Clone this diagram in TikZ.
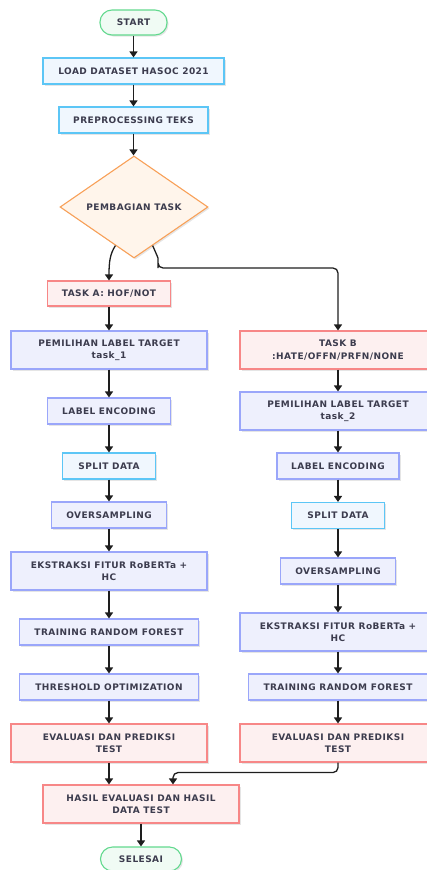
\documentclass[tikz,border=0pt]{standalone}
\usepackage{fontspec}
\newfontfamily\lblfont{DejaVu Sans}[LetterSpace=5, BoldFont={DejaVu Sans Bold}]
\usetikzlibrary{shapes.geometric,arrows.meta,shadows,calc}
\definecolor{txt}{HTML}{3C3C4E}
\definecolor{bluedraw}{HTML}{9AA6FA}
\definecolor{bluefill}{HTML}{EEF0FD}
\definecolor{cyandraw}{HTML}{5CC6F6}
\definecolor{cyanfill}{HTML}{F0F7FE}
\definecolor{reddraw}{HTML}{F78787}
\definecolor{redfill}{HTML}{FDF0F0}
\definecolor{greendraw}{HTML}{62D98E}
\definecolor{greenfill}{HTML}{F0FBF4}
\definecolor{orangedraw}{HTML}{F8A058}
\definecolor{orangefill}{HTML}{FFF5EB}
\definecolor{linec}{HTML}{1E1E1E}
\tikzset{
  base/.style={draw, line width=1.1pt, inner sep=0pt, align=center,
    font=\lblfont\bfseries\fontsize{9}{12.5}\selectfont, text=txt,
    drop shadow={shadow xshift=1.5pt, shadow yshift=-1.5pt, fill=black, opacity=0.10}},
  bluebox/.style={base, draw=bluedraw, fill=bluefill},
  cyanbox/.style={base, draw=cyandraw, fill=cyanfill},
  redbox/.style={base, draw=reddraw, fill=redfill},
  termbox/.style={base, draw=greendraw, fill=greenfill, rounded corners=12pt},
  decbox/.style={base, shape=diamond, draw=orangedraw, fill=orangefill, aspect=1.45},
  arr/.style={draw=linec, line width=1.3pt, -{Triangle[width=8pt,length=6pt]}},
}
\begin{document}
\begin{tikzpicture}[x=1pt,y=-1pt]
\useasboundingbox (0,0) rectangle (427,870);
% main column
\node[termbox, minimum width=67, minimum height=25] (start) at (133.5,22.5) {START};
\node[cyanbox, minimum width=181, minimum height=26] (load) at (133.5,71) {LOAD DATASET HASOC 2021};
\node[cyanbox, minimum width=149, minimum height=26] (pre) at (133.5,120) {PREPROCESSING TEKS};
\node[decbox, minimum width=148, minimum height=102] (dia) at (134,207) {PEMBAGIAN TASK};
% left column
\node[redbox, minimum width=123, minimum height=25] (ta) at (109,293.5) {TASK A: HOF/NOT};
\node[bluebox, minimum width=196, minimum height=38] (pl1) at (109,350) {PEMILIHAN LABEL TARGET\\task\_1};
\node[bluebox, minimum width=123, minimum height=26] (le1) at (109,411) {LABEL ENCODING};
\node[cyanbox, minimum width=93, minimum height=26] (sd1) at (109,466) {SPLIT DATA};
\node[bluebox, minimum width=115, minimum height=26] (os1) at (109,515) {OVERSAMPLING};
\node[bluebox, minimum width=196, minimum height=38] (ek1) at (109,571) {EKSTRAKSI FITUR RoBERTa +\\HC};
\node[bluebox, minimum width=179, minimum height=26] (tr1) at (109,632) {TRAINING RANDOM FOREST};
\node[bluebox, minimum width=179, minimum height=26] (th1) at (109,687) {THRESHOLD OPTIMIZATION};
\node[redbox, minimum width=196, minimum height=38] (ev1) at (109,743) {EVALUASI DAN PREDIKSI\\TEST};
% right column
\node[redbox, minimum width=196, minimum height=38] (tb) at (338,350) {TASK B\\:HATE/OFFN/PRFN/NONE};
\node[bluebox, minimum width=196, minimum height=38] (pl2) at (338,411) {PEMILIHAN LABEL TARGET\\task\_2};
\node[bluebox, minimum width=122, minimum height=26] (le2) at (338,466) {LABEL ENCODING};
\node[cyanbox, minimum width=93, minimum height=26] (sd2) at (338,515.5) {SPLIT DATA};
\node[bluebox, minimum width=115, minimum height=26] (os2) at (338,571) {OVERSAMPLING};
\node[bluebox, minimum width=196, minimum height=38] (ek2) at (338,632) {EKSTRAKSI FITUR RoBERTa +\\HC};
\node[bluebox, minimum width=179, minimum height=26] (tr2) at (338,687) {TRAINING RANDOM FOREST};
\node[redbox, minimum width=196, minimum height=38] (ev2) at (338,743) {EVALUASI DAN PREDIKSI\\TEST};
% end
\node[redbox, minimum width=196, minimum height=38] (hasil) at (141,804) {HASIL EVALUASI DAN HASIL\\DATA TEST};
\node[termbox, minimum width=81, minimum height=24] (sel) at (141,859) {SELESAI};
% arrows
\draw[arr] (start.south -| 133.5,0) -- (load.north -| 133.5,0);
\draw[arr] (load.south -| 133.5,0) -- (pre.north -| 133.5,0);
\draw[arr] (pre.south -| 133.5,0) -- (dia.north -| 133.5,0);
\coordinate (dl) at ($(dia.west)!0.75!(dia.south)$);
\coordinate (dr) at ($(dia.east)!0.75!(dia.south)$);
\draw[arr] (dl) .. controls (110,254) and (109,262) .. (ta.north);
\draw[arr, rounded corners=5pt] (dr) .. controls (156,253) and (158,258) .. (158,263) -- (158,268) -- (338,268) -- (tb.north);
\foreach \a/\b in {ta/pl1,pl1/le1,le1/sd1,sd1/os1,os1/ek1,ek1/tr1,tr1/th1,th1/ev1,
                   tb/pl2,pl2/le2,le2/sd2,sd2/os2,os2/ek2,ek2/tr2,tr2/ev2}
  \draw[arr] (\a.south) -- (\a.south |- \b.north);
\draw[arr] (ev1.south) -- (ev1.south |- hasil.north);
\coordinate (mg) at ($(hasil.north)+(32,0)$);
\draw[arr, rounded corners=5pt] (ev2.south) -- ++(0,10) -| (mg);
\draw[arr] (hasil.south) -- (sel.north);
\end{tikzpicture}
\end{document}
